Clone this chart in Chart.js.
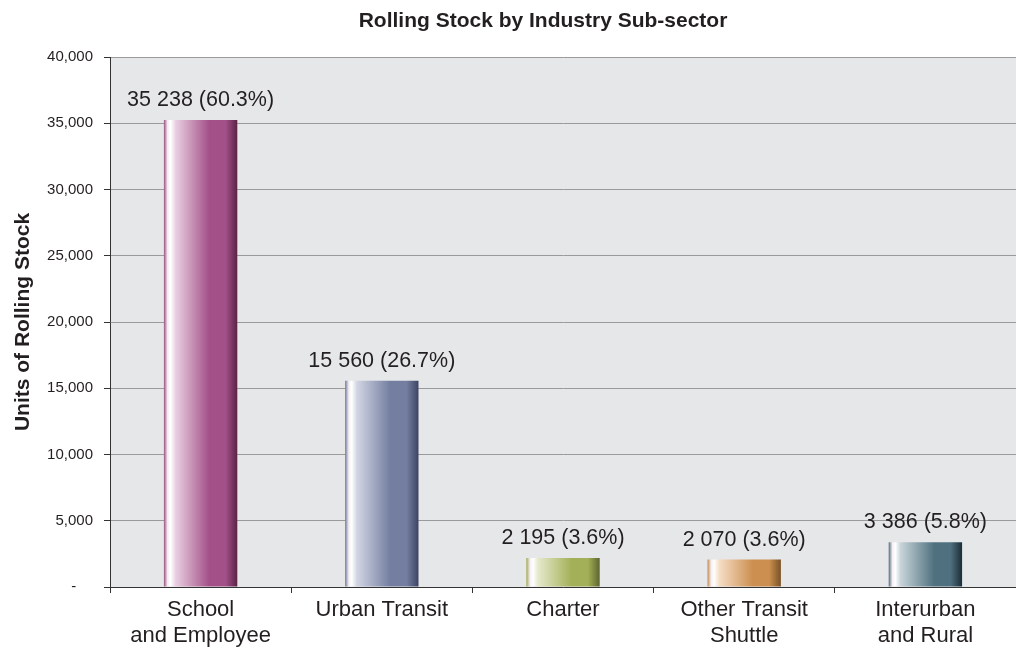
<!DOCTYPE html>
<html>
<head>
<meta charset="utf-8">
<script src="https://cdn.jsdelivr.net/npm/chart.js@4/dist/chart.umd.min.js"></script>
<style>
  html, body { margin: 0; padding: 0; background: #ffffff; }
  #wrap { width: 1016px; height: 648px; }
</style>
</head>
<body>
<div id="wrap"><canvas id="c" width="1016" height="648"></canvas></div>
<script>
// Rolling stock units by industry sub-sector
const categories = [
  ['School', 'and Employee'],
  'Urban Transit',
  'Charter',
  ['Other Transit', 'Shuttle'],
  ['Interurban', 'and Rural']
];
const units = [35238, 15560, 2195, 2070, 3386];
const shares = ['60.3%', '26.7%', '3.6%', '3.6%', '5.8%'];
const yTicks = [0, 5000, 10000, 15000, 20000, 25000, 30000, 35000, 40000];

// Cylinder-style shading per bar: edge, highlight, tint, base, shadow
const barShades = [
  { edge: '#9a4c80', light: '#e9cfe1', base: '#a35088', dark: '#5a2245' },
  { edge: '#6e7898', light: '#d2d5e3', base: '#737ea0', dark: '#3d4361' },
  { edge: '#9ea852', light: '#e6e9cb', base: '#a4b057', dark: '#5d652f' },
  { edge: '#c48a4c', light: '#f5ddc5', base: '#cc8f4f', dark: '#785226' },
  { edge: '#4b6c7a', light: '#c9d5da', base: '#4f717f', dark: '#1b2d37' }
];

const FONT = '"Liberation Sans", Arial, Helvetica, sans-serif';
const BAR_FRACTION = 0.405;

function barGradient(ctx) {
  const chart = ctx.chart;
  const shade = barShades[ctx.dataIndex];
  const xs = chart.scales.x;
  if (!chart.chartArea || !xs) return shade.base;
  const cx = xs.getPixelForValue(ctx.dataIndex);
  const w = (xs.width / categories.length) * BAR_FRACTION;
  const g = chart.ctx.createLinearGradient(cx - w / 2, 0, cx + w / 2, 0);
  g.addColorStop(0.0, shade.edge);
  g.addColorStop(0.05, '#f4eef2');
  g.addColorStop(0.09, '#ffffff');
  g.addColorStop(0.16, shade.light);
  g.addColorStop(0.62, shade.base);
  g.addColorStop(0.84, shade.base);
  g.addColorStop(1.0, shade.dark);
  return g;
}

// Grey plotting backdrop
const plotBackground = {
  id: 'plotBackground',
  beforeDraw(chart) {
    const { ctx, chartArea: a } = chart;
    ctx.save();
    ctx.fillStyle = '#e6e7e9';
    ctx.fillRect(a.left, a.top, a.right - a.left, a.bottom - a.top);
    ctx.restore();
  }
};

// Heading above the plot
const heading = {
  id: 'heading',
  afterDraw(chart, args, opts) {
    const ctx = chart.ctx;
    ctx.save();
    ctx.font = 'bold 21px ' + FONT;
    ctx.fillStyle = '#231f20';
    ctx.textAlign = 'center';
    ctx.textBaseline = 'alphabetic';
    ctx.fillText(opts.text, opts.x, opts.y);
    ctx.restore();
  }
};

// Value and share written above each bar
const valueLabels = {
  id: 'valueLabels',
  afterDatasetsDraw(chart) {
    const ctx = chart.ctx;
    const meta = chart.getDatasetMeta(0);
    ctx.save();
    ctx.font = '21.5px ' + FONT;
    ctx.fillStyle = '#231f20';
    ctx.textAlign = 'center';
    ctx.textBaseline = 'alphabetic';
    meta.data.forEach((bar, i) => {
      const v = units[i].toLocaleString('en-US').replace(/,/g, ' ');
      ctx.fillText(v + ' (' + shares[i] + ')', bar.x, bar.y - 14);
    });
    ctx.restore();
  }
};

new Chart(document.getElementById('c'), {
  type: 'bar',
  data: {
    labels: categories,
    datasets: [{
      data: units,
      backgroundColor: barGradient,
      borderWidth: 0,
      categoryPercentage: 1.0,
      barPercentage: BAR_FRACTION
    }]
  },
  options: {
    responsive: false,
    animation: false,
    events: [],
    layout: { padding: { top: 57, left: 0, right: 0, bottom: 0 } },
    plugins: {
      legend: { display: false },
      tooltip: { enabled: false },
      title: { display: false },
      heading: { text: 'Rolling Stock by Industry Sub-sector', x: 543, y: 27 }
    },
    scales: {
      x: {
        afterFit(scale) { scale.height = 61; },
        border: { display: true, color: '#333333', width: 1 },
        grid: {
          display: true,
          drawOnChartArea: false,
          drawTicks: true,
          tickLength: 6,
          offset: true,
          tickColor: '#333333'
        },
        ticks: {
          color: '#231f20',
          padding: 4,
          maxRotation: 0,
          autoSkip: false,
          font: { family: FONT, size: 22, lineHeight: 1.18 }
        }
      },
      y: {
        min: 0,
        max: 40000,
        afterFit(scale) { scale.width = 110; },
        afterBuildTicks(scale) { scale.ticks = yTicks.map(v => ({ value: v })); },
        border: { display: true, color: '#333333', width: 1 },
        grid: {
          color: '#9a9a9a',
          lineWidth: 1,
          drawTicks: true,
          tickLength: 6,
          tickColor: '#333333'
        },
        ticks: {
          color: '#231f20',
          padding: 11,
          font: { family: FONT, size: 15 },
          callback: v => v === 0 ? '-    ' : v.toLocaleString('en-US')
        },
        title: {
          display: true,
          text: 'Units of Rolling Stock',
          color: '#231f20',
          padding: { top: 11, bottom: 0 },
          font: { family: FONT, size: 21, weight: 'bold', lineHeight: 1.2 }
        }
      }
    }
  },
  plugins: [plotBackground, heading, valueLabels]
});
</script>
</body>
</html>
